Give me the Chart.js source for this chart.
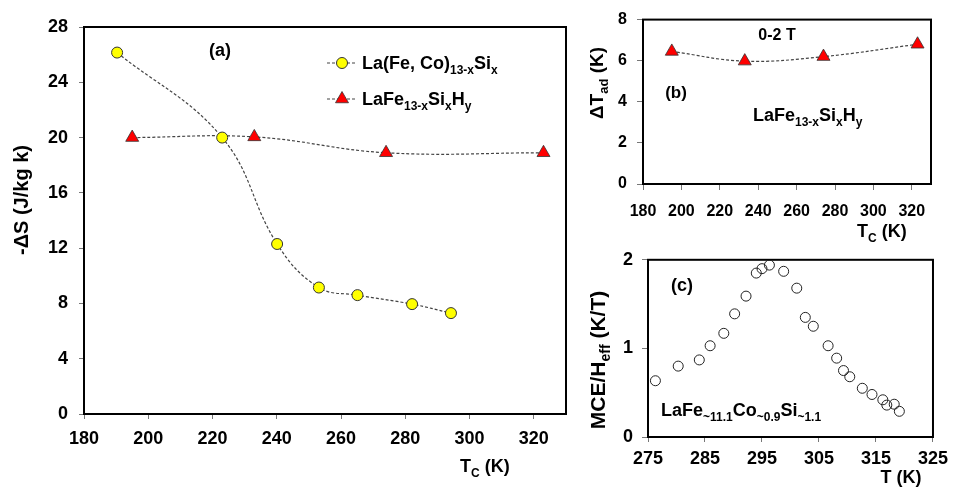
<!DOCTYPE html>
<html lang="en">
<head>
    <meta charset="UTF-8">
    <script src="https://cdn.jsdelivr.net/npm/chart.js@4.4.0/dist/chart.umd.min.js"></script>
    <style>
        body {
            margin: 0;
            background: #fff;
            width: 954px;
            height: 491px;
            position: relative;
            overflow: hidden;
        }

        canvas {
            position: absolute;
            display: block;
        }
    </style>
    <title>MCE of La(Fe,Si)13 compounds</title>
</head>
<body>
    <canvas id="chartA" width="580" height="491" style="left:0;top:0"></canvas>
    <canvas id="chartB" width="374" height="245" style="left:580px;top:0"></canvas>
    <canvas id="chartC" width="374" height="251" style="left:580px;top:240px"></canvas>

    <script>
        const FONT = '"Liberation Sans", Arial, sans-serif';

        // (a) -dS vs Tc
        const tcCo = [190.3, 223.0, 240.1, 253.1, 265.1, 282.1, 294.2];
        const dsCo = [26.15, 20.0, 12.3, 9.15, 8.6, 7.95, 7.3];
        const tcH = [195, 233, 274, 323];
        const dsH = [20.0, 20.05, 18.9, 18.9];

        // (b) dTad vs Tc (0-2 T)
        const dTadH = [6.45, 5.98, 6.2, 6.8];

        // (c) MCE/Heff vs T
        const tC = [276.3, 280.3, 284.0, 285.9, 288.3, 290.2, 292.2, 294.0, 295.0, 296.3, 298.8, 301.1,
            302.6, 304.0, 306.6, 308.1, 309.3, 310.4, 312.6, 314.3, 316.2, 316.9, 318.2, 319.1];
        const mceC = [0.635, 0.80, 0.87, 1.03, 1.17, 1.39, 1.59, 1.85, 1.90, 1.94, 1.87, 1.68,
            1.35, 1.25, 1.03, 0.89, 0.75, 0.68, 0.55, 0.48, 0.42, 0.36, 0.37, 0.29];

        // tick labels
        const ticksTc = [180, 200, 220, 240, 260, 280, 300, 320];
        const ticksDs = [0, 4, 8, 12, 16, 20, 24, 28];
        const ticksTad = [0, 2, 4, 6, 8];
        const ticksT = [275, 285, 295, 305, 315, 325];
        const ticksMce = [0, 1, 2];

        const toXY = (xs, ys) => xs.map((x, i) => ({ x: x, y: ys[i] }));

        function axis(min, max, ticks, size, opts) {
            return {
                type: 'linear',
                min: min,
                max: max,
                afterBuildTicks: s => { s.ticks = ticks.map(v => ({ value: v })); },
                afterFit: s => {
                    if (opts.w) s.width = opts.w;
                    if (opts.h) s.height = opts.h;
                },
                border: { display: false },
                grid: { drawOnChartArea: false, drawTicks: true, tickLength: opts.tl || 5, color: '#777', lineWidth: 1 },
                ticks: { font: { family: FONT, size: size, weight: 'bold' }, color: '#000', padding: opts.pad }
            };
        }

        // draws text made of normal and subscript parts
        function drawRich(ctx, it) {
            const size = it.size;
            const sub = it.sub || Math.round(size * 0.68);
            ctx.save();
            ctx.translate(it.x, it.y);
            if (it.rot) ctx.rotate(it.rot);
            ctx.fillStyle = '#000';
            ctx.textBaseline = 'alphabetic';
            let w = 0;
            it.parts.forEach(p => {
                ctx.font = `bold ${p[1] ? sub : size}px ${FONT}`;
                w += ctx.measureText(p[0]).width;
            });
            let cx = it.align === 'center' ? -w / 2 : (it.align === 'right' ? -w : 0);
            const base = size * 0.36;
            it.parts.forEach(p => {
                ctx.font = `bold ${p[1] ? sub : size}px ${FONT}`;
                ctx.fillText(p[0], cx, base + (p[1] ? size * 0.26 : 0));
                cx += ctx.measureText(p[0]).width;
            });
            ctx.restore();
        }

        const frame = {
            id: 'frame',
            beforeDatasetsDraw(chart) {
                const a = chart.chartArea;
                const ctx = chart.ctx;
                ctx.save();
                ctx.strokeStyle = '#000';
                ctx.lineWidth = 2;
                ctx.strokeRect(a.left, a.top, a.right - a.left, a.bottom - a.top);
                ctx.restore();
            }
        };

        function labels(items, ox, oy) {
            return {
                id: 'labels',
                afterDraw(chart) {
                    items.forEach(it => drawRich(chart.ctx, Object.assign({}, it, { x: it.x - ox, y: it.y - oy })));
                }
            };
        }

        const legendA = {
            id: 'legendA',
            afterDraw(chart) {
                const ctx = chart.ctx;
                const rows = [
                    { y: 63, parts: [['La(Fe, Co)'], ['13-x', 1], ['Si'], ['x', 1]] },
                    { y: 99, parts: [['LaFe'], ['13-x', 1], ['Si'], ['x', 1], ['H'], ['y', 1]] }
                ];
                chart.data.datasets.forEach((ds, i) => {
                    const r = rows[i];
                    ctx.save();
                    ctx.strokeStyle = ds.borderColor;
                    ctx.lineWidth = ds.borderWidth;
                    ctx.setLineDash(ds.borderDash);
                    ctx.beginPath();
                    ctx.moveTo(327, r.y);
                    ctx.lineTo(357, r.y);
                    ctx.stroke();
                    ctx.setLineDash([]);
                    ctx.fillStyle = ds.pointBackgroundColor;
                    ctx.strokeStyle = ds.pointBorderColor;
                    ctx.lineWidth = ds.pointBorderWidth;
                    Chart.helpers.drawPoint(ctx, { pointStyle: ds.pointStyle, radius: ds.pointRadius, borderWidth: ds.pointBorderWidth, rotation: 0 }, 342, r.y);
                    ctx.restore();
                    drawRich(ctx, { parts: r.parts, x: 362, y: r.y, size: 18, sub: 12 });
                });
            }
        };

        const base = {
            responsive: false,
            animation: false,
            events: [],
            plugins: { legend: { display: false }, tooltip: { enabled: false } }
        };

        const lineStyle = { borderColor: '#444', borderWidth: 1.2, borderDash: [3, 2], tension: 0.4, fill: false };

        // panel (a)
        new Chart(document.getElementById('chartA'), {
            type: 'line',
            data: {
                datasets: [
                    Object.assign({
                        label: 'La(Fe, Co)13-xSix',
                        data: toXY(tcCo, dsCo),
                        pointStyle: 'circle',
                        pointRadius: 5.5,
                        pointBackgroundColor: '#ffff00',
                        pointBorderColor: '#333',
                        pointBorderWidth: 1
                    }, lineStyle),
                    Object.assign({
                        label: 'LaFe13-xSixHy',
                        data: toXY(tcH, dsH),
                        pointStyle: 'triangle',
                        pointRadius: 7.5,
                        pointBackgroundColor: '#ff0000',
                        pointBorderColor: '#333',
                        pointBorderWidth: 0.8
                    }, lineStyle)
                ]
            },
            options: Object.assign({}, base, {
                layout: { padding: { top: 27, right: 14, left: 0, bottom: 0 } },
                scales: {
                    x: axis(180, 330, ticksTc, 18, { h: 77, tl: 5, pad: 9 }),
                    y: axis(0, 28, ticksDs, 18, { w: 84, tl: 5, pad: 11 })
                }
            }),
            plugins: [frame, legendA, labels([
                { parts: [['-ΔS (J/kg k)']], x: 21, y: 200, size: 20, align: 'center', rot: -Math.PI / 2 },
                { parts: [['T'], ['C', 1], [' (K)']], x: 460, y: 466, size: 18, sub: 12 },
                { parts: [['(a)']], x: 220, y: 50, size: 18, align: 'center' }
            ], 0, 0)]
        });

        // panel (b)
        new Chart(document.getElementById('chartB'), {
            type: 'line',
            data: {
                datasets: [
                    Object.assign({
                        label: 'LaFe13-xSixHy',
                        data: toXY(tcH, dTadH),
                        pointStyle: 'triangle',
                        pointRadius: 7.5,
                        pointBackgroundColor: '#ff0000',
                        pointBorderColor: '#333',
                        pointBorderWidth: 0.8
                    }, lineStyle)
                ]
            },
            options: Object.assign({}, base, {
                layout: { padding: { top: 15, right: 23, left: 0, bottom: 0 } },
                scales: {
                    x: axis(180, 330, ticksTc, 16, { h: 61, tl: 6, pad: 12 }),
                    y: axis(0, 8, ticksTad, 16, { w: 63, tl: 6, pad: 10 })
                }
            }),
            plugins: [frame, labels([
                { parts: [['ΔT'], ['ad', 1], [' (K)']], x: 596, y: 83, size: 19, sub: 13, align: 'center', rot: -Math.PI / 2 },
                { parts: [['T'], ['C', 1], [' (K)']], x: 857, y: 231, size: 18, sub: 12 },
                { parts: [['0-2 T']], x: 777, y: 34, size: 16, align: 'center' },
                { parts: [['(b)']], x: 676, y: 92, size: 17, align: 'center' },
                { parts: [['LaFe'], ['13-x', 1], ['Si'], ['x', 1], ['H'], ['y', 1]], x: 753, y: 115, size: 18, sub: 12 }
            ], 580, 0)]
        });

        // panel (c)
        new Chart(document.getElementById('chartC'), {
            type: 'scatter',
            data: {
                datasets: [{
                    label: 'LaFe~11.1Co~0.9Si~1.1',
                    data: toXY(tC, mceC),
                    showLine: false,
                    pointStyle: 'circle',
                    pointRadius: 5,
                    pointBackgroundColor: 'rgba(255,255,255,0)',
                    pointBorderColor: '#222',
                    pointBorderWidth: 1
                }]
            },
            options: Object.assign({}, base, {
                layout: { padding: { top: 16, right: 17, left: 0, bottom: 0 } },
                scales: {
                    x: axis(275, 325, ticksT, 18, { h: 54, tl: 5, pad: 6 }),
                    y: axis(0, 2, ticksMce, 18, { w: 68, tl: 6, pad: 9 })
                }
            }),
            plugins: [frame, labels([
                { parts: [['MCE/H'], ['eff', 1], [' (K/T)']], x: 597, y: 360, size: 21, sub: 14, align: 'center', rot: -Math.PI / 2 },
                { parts: [['T (K)']], x: 901, y: 477, size: 18, align: 'center' },
                { parts: [['(c)']], x: 682, y: 285, size: 18, align: 'center' },
                { parts: [['LaFe'], ['~11.1', 1], ['Co'], ['~0.9', 1], ['Si'], ['~1.1', 1]], x: 661, y: 410, size: 18, sub: 12 }
            ], 580, 240)]
        });
    </script>
</body>
</html>
